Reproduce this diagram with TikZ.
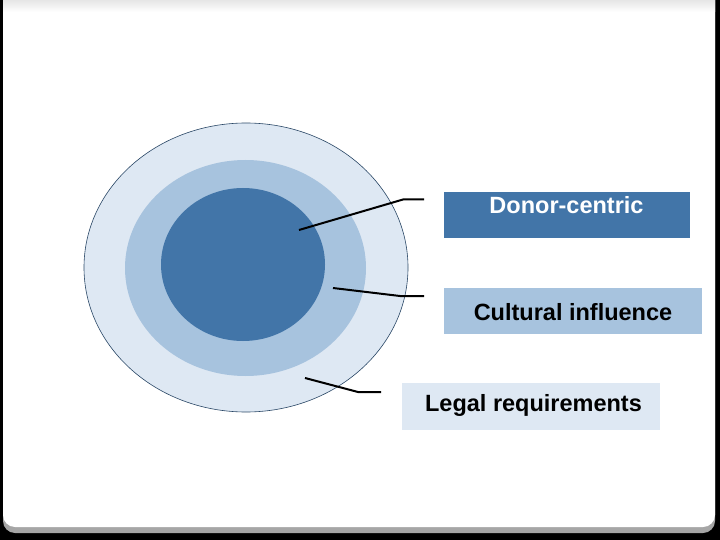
\documentclass[tikz,border=0pt]{standalone}
\usepackage{fontspec}
\setmainfont{Liberation Sans}
\definecolor{cdark}{HTML}{4275A8}
\definecolor{cmid}{HTML}{A7C3DE}
\definecolor{clight}{HTML}{DEE8F3}
\definecolor{cedge}{HTML}{2A4766}
\tikzset{
  lab/.style={minimum height=46pt, inner sep=0pt, font=\bfseries\fontsize{23.5}{26}\selectfont},
  leader/.style={line width=2pt, black},
}
\begin{document}
\begin{tikzpicture}[x=1pt,y=-1pt]
\useasboundingbox (0,0) rectangle (720,540);
\fill[black] (0,0) rectangle (720,540);
\fill[gray!70, rounded corners=12pt] (3,-20) rectangle (715,533);
\fill[white, rounded corners=12pt] (3,-20) rectangle (715,527);
\shade[top color=black!10, bottom color=white] (3,0) rectangle (715,12);
% ellipses
\fill[clight, draw=cedge, line width=0.6pt] (246,267.5) ellipse [x radius=162, y radius=144.5];
\fill[cmid] (245.5,268) ellipse [x radius=120.5, y radius=108];
\fill[cdark] (243,264.5) ellipse [x radius=82, y radius=76.5];
% label boxes
\node[lab, fill=cdark, text=white, minimum width=246pt, anchor=north west] (b1) at (444,192) {};
\node[text=white, font=\bfseries\fontsize{23.5}{26}\selectfont, anchor=base] (t1) at (566.5,214) {Donor-centric};
\node[lab, fill=cmid, minimum width=258pt, anchor=north west] (b2) at (444,288) {};
\node[font=\bfseries\fontsize{23.5}{26}\selectfont, anchor=base] (t2) at (573,320) {Cultural influence};
\node[lab, fill=clight, minimum width=258pt, minimum height=47pt, anchor=north west] (b3) at (402,383) {};
\node[font=\bfseries\fontsize{23.5}{26}\selectfont, anchor=base] (t3) at (533.5,411) {Legal requirements};
% leader lines
\coordinate (p1) at (299,230);
\coordinate (k1) at (403,199.5);
\coordinate (e1) at (424,199.5);
\coordinate (p2) at (333,288);
\coordinate (k2) at (400,296);
\coordinate (e2) at (424,296);
\coordinate (p3) at (305,378);
\coordinate (k3) at (358,392);
\coordinate (e3) at (381,392);
\draw[leader] (p1) -- (k1) -- (e1);
\draw[leader] (p2) -- (k2) -- (e2);
\draw[leader] (p3) -- (k3) -- (e3);
\end{tikzpicture}
\end{document}
